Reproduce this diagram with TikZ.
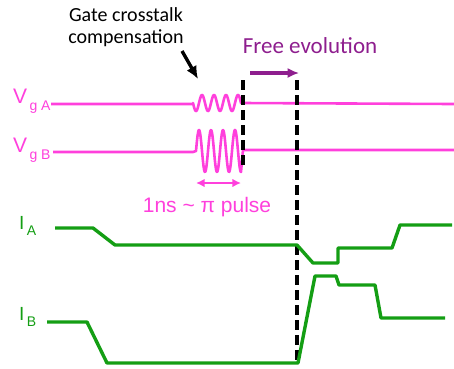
\documentclass[tikz,border=0pt]{standalone}
\usepackage{fontspec}
\setmainfont{Liberation Sans}
\newfontfamily\calib{Carlito}
\usetikzlibrary{arrows.meta,positioning,calc}
\definecolor{gatepink}{RGB}{255,64,220}
\definecolor{currgreen}{RGB}{20,158,20}
\definecolor{freepurple}{RGB}{142,30,142}
\newcommand{\sublab}[2]{#1\raisebox{-0.6ex}{\fontsize{14}{14}\selectfont\,#2}}
\tikzset{
  gatelbl/.style={text=gatepink,inner sep=0pt,anchor=west,font=\fontsize{21}{21}\selectfont},
  currlbl/.style={text=currgreen,inner sep=0pt,anchor=west,font=\fontsize{19}{19}\selectfont},
  gatesig/.style={gatepink,line width=2.6pt,line join=round},
  currsig/.style={currgreen,line width=3.4pt,line join=round},
  marker/.style={black,line width=3.6pt,dash pattern=on 10pt off 5pt},
  pnyil/.style={gatepink,line width=2.6pt,{Latex[length=3mm,width=3mm]}-{Latex[length=3mm,width=3mm]}},
  fnyil/.style={freepurple,line width=3.4pt,-{Latex[length=4mm,width=3.6mm]}},
  knyil/.style={black,line width=3.4pt,-{Latex[length=4.5mm,width=4mm]}},
}
\begin{document}
\begin{tikzpicture}[x=1pt,y=-1pt]
  \useasboundingbox (0,0) rectangle (454,368);
  % labels
  \node[gatelbl] (va) at (13,101) {\sublab{V}{g A}};
  \node[gatelbl] (vb) at (13,150) {\sublab{V}{g B}};
  \node[currlbl] (ia) at (19,226) {\sublab{I}{A}};
  \node[currlbl] (ib) at (19,317) {\sublab{I}{B}};
  \node[font=\calib\fontsize{20}{22}\selectfont,align=center] (gc) at (126,27)
     {Gate crosstalk\\compensation};
  \node[font=\calib\fontsize{23}{23}\selectfont,text=freepurple] (fe) at (310,46) {Free evolution};
  \node[text=gatepink,font=\fontsize{21}{21}\selectfont] (pw) at (207,207) {1ns \~{} π pulse};
  % gate voltages
  \draw[gatesig] (51,104) -- (193,104)
    -- plot[domain=193:241,samples=120,smooth] (\x,{103+8*sin(30*(\x-193))})
    -- (454,104);
  \draw[gatesig] (53,152) -- (193,152) -- (196,151)
    -- plot[domain=196:241,samples=120,smooth] (\x,{151-21*sin(30*(\x-196))})
    -- (243,150) -- (454,150);
  % time markers
  \coordinate (m1t) at (243,80);  \coordinate (m1b) at (243,166);
  \coordinate (m2t) at (297,80);  \coordinate (m2b) at (297,363);
  \draw[marker] (m1t) -- (m1b);
  \draw[marker] (m2t) -- (m2b);
  % currents
  \draw[currsig] (55,228) -- (93,228) -- (115,245) -- (297,245) -- (313,263) -- (338,263)
    -- (338,248) -- (392,248) -- (400,225) -- (452,225);
  \draw[currsig] (47,322) -- (87,322) -- (107,363) -- (298,363) -- (315,276) -- (336,276)
    -- (339,285) -- (375,285) -- (381,318) -- (445,318);
  % arrows
  \coordinate (ka) at (182,51);  \coordinate (kb) at (198,79);
  \draw[knyil] (ka) -- (kb);
  \coordinate (fa) at (250,73);  \coordinate (fb) at (299,73);
  \draw[fnyil] (fa) -- (fb);
  \coordinate (pa) at (196,183); \coordinate (pb) at (241,183);
  \draw[pnyil] (pa) -- (pb);
\end{tikzpicture}
\end{document}
